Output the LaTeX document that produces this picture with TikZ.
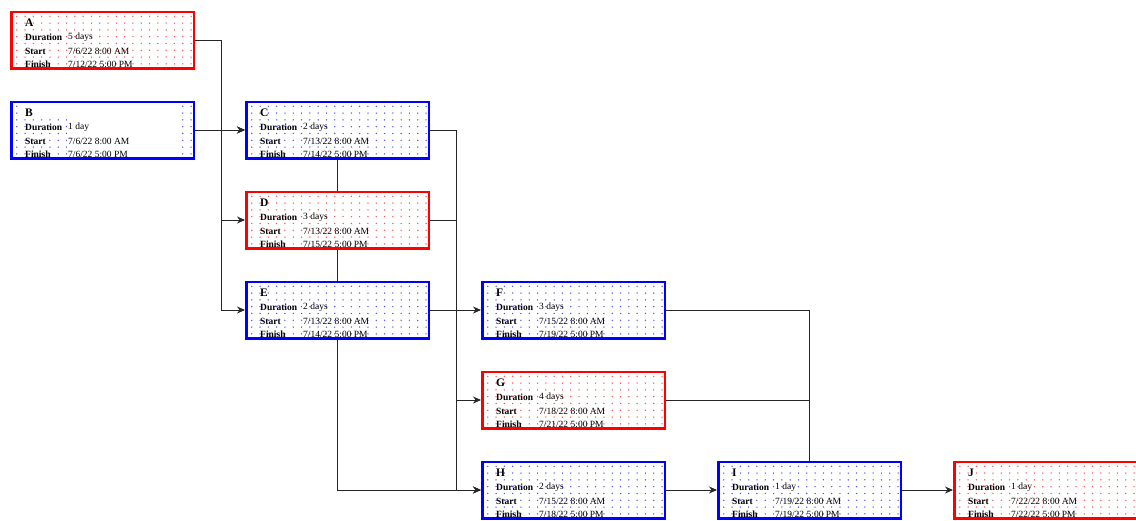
\documentclass[tikz,border=0pt]{standalone}
\usepackage{fontspec}
\setmainfont{Liberation Serif}
\usetikzlibrary{arrows.meta}
\pgfdeclarelayer{front}
\pgfsetlayers{main,front}

\begin{document}
\begin{tikzpicture}[x=1pt, y=-1pt,
    task/.style={draw=#1, line width=2.5pt, minimum width=182.5pt, minimum height=56.5pt, inner sep=0pt,
        path picture={\foreach \i in {0,...,21}{\foreach \j in {0,...,7}{
            \fill[#1!70] ([shift={(5.5+\i*8.3,4.5+\j*6.8)}]path picture bounding box.north west) circle[radius=0.75];}}}},
    title/.style={anchor=west, inner sep=0pt, font=\fontsize{11.5}{12}\selectfont\bfseries},
    key/.style={anchor=west, inner sep=0pt, font=\fontsize{9.5}{10}\selectfont\bfseries},
    val/.style={anchor=west, inner sep=0pt, font=\fontsize{9.5}{10}\selectfont},
    line/.style={line width=0.9pt, black!85},
    link/.style={line, -{Stealth[length=8pt, width=7pt]}}]
            \useasboundingbox (0,0) rectangle (1136,520);

            % 任务框
            \foreach \n/\x/\y/\c/\d/\s/\f in {
                A/102.5/40/red/{5 days}/{7/6/22 8:00 AM}/{7/12/22 5:00 PM},
                B/102.5/130/blue/{1 day}/{7/6/22 8:00 AM}/{7/6/22 5:00 PM},
                C/337.5/130/blue/{2 days}/{7/13/22 8:00 AM}/{7/14/22 5:00 PM},
                D/337.5/220/red/{3 days}/{7/13/22 8:00 AM}/{7/15/22 5:00 PM},
                E/337.5/310/blue/{2 days}/{7/13/22 8:00 AM}/{7/14/22 5:00 PM},
                F/573.5/310/blue/{3 days}/{7/15/22 8:00 AM}/{7/19/22 5:00 PM},
                G/573.5/400/red/{4 days}/{7/18/22 8:00 AM}/{7/21/22 5:00 PM},
                H/573.5/490/blue/{2 days}/{7/15/22 8:00 AM}/{7/18/22 5:00 PM},
                I/809.5/490/blue/{1 day}/{7/19/22 8:00 AM}/{7/19/22 5:00 PM},
                J/1045.5/490/red/{1 day}/{7/22/22 8:00 AM}/{7/22/22 5:00 PM}} {
                \node[task=\c] (\n) at (\x,\y) {};
                \begin{pgfonlayer}{front}
                    \node[title] at ([shift={(15,12)}]\n.north west) {\n};
                    \node[key] at ([shift={(15,27)}]\n.north west) {Duration};
                    \node[val] at ([shift={(58,27)}]\n.north west) {\d};
                    \node[key] at ([shift={(15,40.5)}]\n.north west) {Start};
                    \node[val] at ([shift={(58,40.5)}]\n.north west) {\s};
                    \node[key] at ([shift={(15,53.5)}]\n.north west) {Finish};
                    \node[val] at ([shift={(58,53.5)}]\n.north west) {\f};
                \end{pgfonlayer}
            }

            % B 框中部留白
            \fill[white] ([shift={(12,3)}]B.north west) rectangle ([shift={(168,18)}]B.north west);
            \fill[white] ([shift={(57,18)}]B.north west) rectangle ([shift={(168,55.5)}]B.north west);

            % A、B 到 C、D、E
            \coordinate (ja) at ([xshift=26]A.east);
            \draw[line] (A.east) -- (ja);
            \draw[link] (ja) |- (C.west);
            \draw[link] (ja) |- (D.west);
            \draw[link] (ja) |- (E.west);
            \draw[link] (B) -- (C);

            % C、D、E 竖线
            \draw[line] (C) -- (D);
            \draw[line] (D) -- (E);
            \draw[link] (E.south) |- (H.west);

            % C、D、E 到 F、G、H
            \coordinate (jc) at ([xshift=26]C.east);
            \draw[line] (C.east) -- (jc);
            \draw[link] (jc) |- (H.west);
            \draw[line] (D.east) -- (D.east -| jc);
            \draw[link] (jc |- G.west) -- (G.west);
            \draw[link] (E) -- (F);

            % F、G、H 到 I，再到 J
            \draw[line] (F.east) -| (I.north);
            \draw[line] (G.east) -- (G.east -| I.north);
            \draw[link] (H) -- (I);
            \draw[link] (I) -- (J);
        \end{tikzpicture}
\end{document}
